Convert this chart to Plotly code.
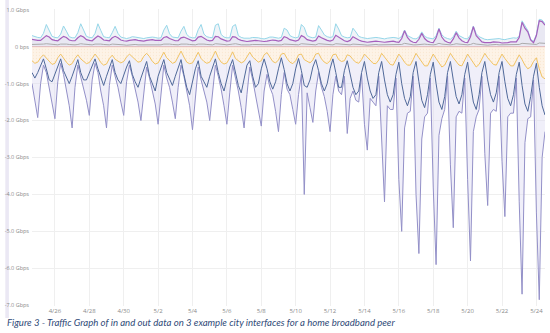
import plotly.graph_objects as go
import pandas as pd

# time axis: 4-hour samples, 30 days starting 2020-04-24 16:00
start_time = "2020-04-24 16:00"
step_hours = 4

# ---- outbound (positive) series, one row per day, 6 samples per day ----
cyan_out = [
    [0.30, 0.27, 0.25, 0.24, 0.36, 0.60],
    [0.45, 0.28, 0.25, 0.24, 0.34, 0.56],
    [0.42, 0.27, 0.24, 0.24, 0.38, 0.62],
    [0.45, 0.28, 0.25, 0.24, 0.36, 0.62],
    [0.44, 0.27, 0.25, 0.24, 0.38, 0.55],
    [0.36, 0.26, 0.24, 0.22, 0.24, 0.27],
    [0.26, 0.25, 0.23, 0.22, 0.24, 0.26],
    [0.26, 0.25, 0.23, 0.24, 0.45, 0.58],
    [0.35, 0.26, 0.24, 0.24, 0.42, 0.55],
    [0.33, 0.26, 0.24, 0.24, 0.46, 0.60],
    [0.34, 0.27, 0.25, 0.24, 0.58, 0.62],
    [0.33, 0.26, 0.24, 0.24, 0.55, 0.60],
    [0.30, 0.25, 0.23, 0.22, 0.23, 0.25],
    [0.25, 0.24, 0.22, 0.21, 0.23, 0.26],
    [0.26, 0.25, 0.23, 0.25, 0.50, 0.45],
    [0.30, 0.26, 0.24, 0.26, 0.60, 0.52],
    [0.30, 0.26, 0.24, 0.26, 0.57, 0.45],
    [0.32, 0.27, 0.25, 0.27, 0.62, 0.48],
    [0.30, 0.26, 0.24, 0.25, 0.50, 0.40],
    [0.28, 0.25, 0.23, 0.22, 0.23, 0.25],
    [0.25, 0.24, 0.22, 0.21, 0.23, 0.25],
    [0.25, 0.24, 0.22, 0.28, 0.45, 0.30],
    [0.25, 0.22, 0.21, 0.26, 0.40, 0.28],
    [0.24, 0.22, 0.21, 0.30, 0.50, 0.32],
    [0.25, 0.22, 0.20, 0.27, 0.42, 0.30],
    [0.25, 0.22, 0.21, 0.32, 0.56, 0.35],
    [0.27, 0.23, 0.20, 0.19, 0.20, 0.22],
    [0.23, 0.22, 0.20, 0.19, 0.21, 0.23],
    [0.24, 0.23, 0.28, 0.70, 0.56, 0.44],
    [0.20, 0.14, 0.33, 0.74, 0.72, 0.62],
]
purple_out = [
    [0.20, 0.18, 0.17, 0.17, 0.24, 0.30],
    [0.26, 0.19, 0.17, 0.16, 0.22, 0.28],
    [0.25, 0.18, 0.16, 0.16, 0.24, 0.30],
    [0.26, 0.19, 0.17, 0.16, 0.23, 0.29],
    [0.25, 0.18, 0.17, 0.16, 0.24, 0.28],
    [0.24, 0.18, 0.16, 0.15, 0.17, 0.19],
    [0.19, 0.17, 0.15, 0.15, 0.17, 0.19],
    [0.19, 0.17, 0.16, 0.17, 0.25, 0.27],
    [0.22, 0.18, 0.16, 0.16, 0.24, 0.26],
    [0.22, 0.18, 0.16, 0.17, 0.26, 0.28],
    [0.22, 0.18, 0.16, 0.17, 0.28, 0.27],
    [0.21, 0.17, 0.15, 0.16, 0.27, 0.26],
    [0.20, 0.17, 0.15, 0.14, 0.15, 0.17],
    [0.17, 0.16, 0.14, 0.14, 0.15, 0.17],
    [0.18, 0.17, 0.15, 0.17, 0.27, 0.24],
    [0.19, 0.17, 0.15, 0.18, 0.30, 0.26],
    [0.19, 0.17, 0.15, 0.17, 0.29, 0.24],
    [0.20, 0.17, 0.15, 0.18, 0.31, 0.26],
    [0.19, 0.16, 0.14, 0.17, 0.27, 0.22],
    [0.18, 0.15, 0.13, 0.12, 0.13, 0.15],
    [0.15, 0.14, 0.12, 0.12, 0.13, 0.15],
    [0.15, 0.13, 0.12, 0.22, 0.43, 0.25],
    [0.16, 0.12, 0.11, 0.20, 0.36, 0.22],
    [0.15, 0.12, 0.11, 0.24, 0.48, 0.26],
    [0.16, 0.12, 0.10, 0.21, 0.38, 0.24],
    [0.16, 0.12, 0.11, 0.27, 0.54, 0.30],
    [0.20, 0.13, 0.11, 0.10, 0.11, 0.13],
    [0.13, 0.12, 0.10, 0.10, 0.11, 0.13],
    [0.14, 0.13, 0.25, 0.66, 0.50, 0.40],
    [0.18, 0.11, 0.30, 0.70, 0.68, 0.58],
]
gray_out = [
    [0.06, 0.06, 0.05, 0.05, 0.07, 0.08],
    [0.07, 0.06, 0.05, 0.05, 0.07, 0.08],
    [0.07, 0.06, 0.05, 0.05, 0.06, 0.08],
    [0.07, 0.06, 0.05, 0.05, 0.07, 0.08],
    [0.07, 0.06, 0.05, 0.05, 0.07, 0.07],
    [0.06, 0.05, 0.05, 0.04, 0.05, 0.06],
    [0.06, 0.05, 0.05, 0.04, 0.05, 0.06],
    [0.06, 0.05, 0.05, 0.05, 0.07, 0.08],
    [0.07, 0.06, 0.05, 0.05, 0.07, 0.08],
    [0.07, 0.06, 0.05, 0.05, 0.07, 0.08],
    [0.07, 0.06, 0.05, 0.05, 0.08, 0.08],
    [0.07, 0.06, 0.05, 0.05, 0.07, 0.08],
    [0.06, 0.05, 0.05, 0.04, 0.05, 0.06],
    [0.06, 0.05, 0.05, 0.04, 0.05, 0.06],
    [0.06, 0.05, 0.05, 0.05, 0.07, 0.07],
    [0.07, 0.06, 0.05, 0.05, 0.08, 0.07],
    [0.07, 0.06, 0.05, 0.05, 0.08, 0.07],
    [0.07, 0.06, 0.05, 0.05, 0.08, 0.07],
    [0.07, 0.06, 0.05, 0.05, 0.07, 0.07],
    [0.06, 0.05, 0.05, 0.04, 0.05, 0.06],
    [0.06, 0.05, 0.05, 0.04, 0.05, 0.06],
    [0.06, 0.05, 0.05, 0.06, 0.09, 0.07],
    [0.06, 0.05, 0.05, 0.06, 0.08, 0.07],
    [0.06, 0.05, 0.05, 0.06, 0.09, 0.07],
    [0.06, 0.05, 0.05, 0.06, 0.08, 0.07],
    [0.06, 0.05, 0.05, 0.06, 0.09, 0.07],
    [0.06, 0.05, 0.05, 0.04, 0.05, 0.06],
    [0.06, 0.05, 0.05, 0.04, 0.05, 0.06],
    [0.06, 0.05, 0.06, 0.09, 0.08, 0.07],
    [0.06, 0.05, 0.06, 0.10, 0.10, 0.09],
]

# ---- inbound (negative) series ----
orange_in = [
    [-0.38, -0.45, -0.42, -0.30, -0.22, -0.30],
    [-0.40, -0.48, -0.45, -0.30, -0.20, -0.32],
    [-0.42, -0.50, -0.46, -0.32, -0.22, -0.33],
    [-0.40, -0.46, -0.43, -0.30, -0.20, -0.30],
    [-0.43, -0.50, -0.47, -0.32, -0.23, -0.34],
    [-0.38, -0.44, -0.40, -0.28, -0.20, -0.28],
    [-0.36, -0.42, -0.40, -0.26, -0.18, -0.27],
    [-0.40, -0.47, -0.44, -0.30, -0.15, -0.30],
    [-0.38, -0.45, -0.42, -0.28, -0.12, -0.28],
    [-0.42, -0.46, -0.44, -0.30, -0.15, -0.32],
    [-0.40, -0.45, -0.42, -0.28, -0.12, -0.30],
    [-0.42, -0.47, -0.44, -0.30, -0.14, -0.32],
    [-0.38, -0.44, -0.40, -0.27, -0.15, -0.28],
    [-0.36, -0.42, -0.38, -0.22, -0.16, -0.30],
    [-0.40, -0.44, -0.36, -0.20, -0.18, -0.32],
    [-0.42, -0.46, -0.38, -0.22, -0.20, -0.35],
    [-0.40, -0.44, -0.36, -0.20, -0.18, -0.33],
    [-0.42, -0.46, -0.38, -0.22, -0.20, -0.35],
    [-0.40, -0.38, -0.22, -0.25, -0.35, -0.42],
    [-0.45, -0.35, -0.20, -0.28, -0.38, -0.45],
    [-0.46, -0.36, -0.18, -0.28, -0.40, -0.48],
    [-0.50, -0.36, -0.20, -0.30, -0.42, -0.50],
    [-0.50, -0.35, -0.18, -0.30, -0.42, -0.52],
    [-0.52, -0.36, -0.20, -0.32, -0.45, -0.55],
    [-0.50, -0.34, -0.18, -0.30, -0.40, -0.50],
    [-0.52, -0.36, -0.20, -0.32, -0.45, -0.55],
    [-0.48, -0.34, -0.18, -0.30, -0.40, -0.48],
    [-0.50, -0.35, -0.20, -0.32, -0.42, -0.52],
    [-0.52, -0.36, -0.22, -0.35, -0.50, -0.60],
    [-0.55, -0.40, -0.30, -0.60, -0.82, -0.87],
]
blue_in = [
    [-0.70, -0.85, -0.70, -0.50, -0.33, -0.60],
    [-0.90, -0.95, -0.75, -0.50, -0.33, -0.65],
    [-0.85, -1.00, -0.80, -0.55, -0.35, -0.70],
    [-0.90, -0.90, -0.70, -0.50, -0.33, -0.60],
    [-0.85, -1.05, -0.80, -0.55, -0.35, -0.70],
    [-0.90, -1.00, -0.75, -0.55, -0.38, -0.75],
    [-0.95, -1.10, -0.85, -0.60, -0.40, -0.80],
    [-1.00, -1.20, -0.80, -0.55, -0.35, -0.70],
    [-0.90, -1.05, -0.80, -0.55, -0.35, -0.75],
    [-1.10, -1.30, -0.90, -0.60, -0.38, -0.80],
    [-0.95, -1.10, -0.80, -0.55, -0.33, -0.70],
    [-1.00, -1.20, -0.85, -0.55, -0.35, -0.75],
    [-1.05, -1.25, -0.85, -0.50, -0.38, -0.80],
    [-1.10, -1.00, -0.60, -0.33, -0.60, -0.95],
    [-1.15, -0.95, -0.60, -0.30, -0.62, -1.00],
    [-1.20, -1.00, -0.60, -0.32, -0.65, -1.05],
    [-1.10, -0.90, -0.55, -0.35, -0.65, -1.00],
    [-1.20, -1.00, -0.60, -0.33, -0.70, -1.10],
    [-1.10, -0.65, -0.38, -0.75, -1.10, -1.30],
    [-1.20, -0.70, -0.40, -0.85, -1.20, -1.40],
    [-1.30, -0.70, -0.40, -0.90, -1.30, -1.50],
    [-1.30, -0.75, -0.42, -1.00, -1.40, -1.60],
    [-1.35, -0.70, -0.40, -0.95, -1.45, -1.65],
    [-1.30, -0.75, -0.42, -1.00, -1.50, -1.70],
    [-1.35, -0.70, -0.40, -0.90, -1.35, -1.55],
    [-1.30, -0.75, -0.42, -1.00, -1.50, -1.70],
    [-1.30, -0.70, -0.40, -0.90, -1.30, -1.50],
    [-1.25, -0.70, -0.40, -0.95, -1.40, -1.60],
    [-1.30, -0.75, -0.42, -1.05, -1.55, -1.75],
    [-1.35, -0.80, -0.45, -1.10, -1.60, -1.85],
]
lavender_in = [
    [-1.00, -1.50, -1.92, -1.00, -0.50, -0.70],
    [-1.10, -1.50, -1.95, -0.95, -0.45, -0.75],
    [-1.20, -1.60, -2.20, -1.10, -0.50, -0.80],
    [-1.10, -1.45, -1.86, -0.90, -0.45, -0.70],
    [-1.20, -1.60, -2.20, -1.05, -0.50, -0.80],
    [-1.10, -1.50, -1.86, -0.95, -0.50, -0.80],
    [-1.15, -1.50, -2.00, -1.20, -0.55, -0.85],
    [-1.20, -1.55, -2.10, -1.20, -0.50, -0.85],
    [-1.10, -1.50, -1.95, -1.10, -0.50, -0.80],
    [-1.25, -1.60, -2.25, -1.30, -0.55, -0.90],
    [-1.20, -1.50, -2.00, -1.20, -0.50, -0.80],
    [-1.15, -1.60, -2.10, -1.25, -0.50, -0.85],
    [-1.20, -1.65, -2.20, -1.30, -0.55, -0.90],
    [-1.30, -1.70, -2.15, -1.20, -0.75, -1.10],
    [-1.30, -1.75, -2.30, -1.30, -0.70, -1.15],
    [-1.30, -1.70, -2.10, -1.30, -0.75, -4.00],
    [-1.25, -1.65, -2.05, -1.20, -0.70, -1.10],
    [-1.35, -1.75, -2.30, -1.30, -0.80, -1.20],
    [-1.30, -0.80, -2.35, -1.40, -1.20, -1.45],
    [-1.50, -0.75, -2.10, -2.80, -1.40, -1.50],
    [-1.60, -0.80, -2.60, -4.20, -1.60, -1.70],
    [-1.70, -0.85, -3.60, -5.00, -2.20, -1.80],
    [-1.75, -0.80, -4.00, -5.60, -2.50, -1.90],
    [-1.80, -0.85, -3.80, -5.90, -2.40, -1.95],
    [-1.70, -0.80, -3.20, -4.90, -1.90, -1.75],
    [-1.80, -0.85, -3.60, -5.80, -2.30, -1.90],
    [-1.70, -0.80, -2.90, -4.30, -1.80, -1.70],
    [-1.75, -0.80, -3.10, -4.60, -1.90, -1.80],
    [-1.80, -0.85, -4.20, -6.70, -2.60, -1.95],
    [-1.90, -0.90, -4.50, -6.85, -3.00, -2.30],
]

y_tick_values = [1, 0, -1, -2, -3, -4, -5, -6, -7]
y_tick_labels = ["1.0 Gbps", "0 bps", "-1.0 Gbps", "-2.0 Gbps", "-3.0 Gbps",
                 "-4.0 Gbps", "-5.0 Gbps", "-6.0 Gbps", "-7.0 Gbps"]
caption = "Figure 3 - Traffic Graph of in and out data on 3 example city interfaces for a home broadband peer"


def flat(rows):
    return [v for r in rows for v in r]


n = len(flat(lavender_in))
times = pd.date_range(start=start_time, periods=n, freq=f"{step_hours}h")

fig = go.Figure()

# inbound: big lavender area first
fig.add_trace(go.Scatter(x=times, y=flat(lavender_in), mode="lines", fill="tozeroy",
                         fillcolor="rgba(222,219,242,0.45)",
                         line=dict(color="#9390c8", width=1)))
fig.add_trace(go.Scatter(x=times, y=flat(orange_in), mode="lines", fill="tozeroy",
                         fillcolor="rgba(253,238,218,0.85)",
                         fillpattern=dict(shape=".", fgcolor="rgba(240,205,160,0.55)",
                                          bgcolor="rgba(254,244,230,0.9)", size=3, solidity=0.15),
                         line=dict(color="#f2c362", width=1)))
fig.add_trace(go.Scatter(x=times, y=flat(blue_in), mode="lines",
                         line=dict(color="#50699a", width=1)))

# outbound
fig.add_trace(go.Scatter(x=times, y=flat(cyan_out), mode="lines", fill="tozeroy",
                         fillcolor="rgba(222,230,240,0.45)",
                         line=dict(color="#96d7e9", width=1)))
fig.add_trace(go.Scatter(x=times, y=flat(purple_out), mode="lines", fill="tozeroy",
                         fillcolor="rgba(228,224,240,0.6)",
                         line=dict(color="#a660bd", width=1.2)))
fig.add_trace(go.Scatter(x=times, y=flat(gray_out), mode="lines",
                         line=dict(color="#ababab", width=1)))

# decorative left bar of the page
fig.add_shape(type="rect", xref="paper", yref="paper",
              x0=-0.052, x1=-0.045, y0=-0.04, y1=1.04,
              fillcolor="#ebe8f4", line=dict(width=0), layer="below")

fig.add_annotation(text=caption, xref="paper", yref="paper",
                   x=-0.052, y=-0.057, xanchor="left", yanchor="middle",
                   showarrow=False,
                   font=dict(family="Lato", size=9.6, color="#2f4a78", style="italic"))

fig.update_layout(
    width=550, height=333,
    margin=dict(l=30, r=5, t=9, b=27),
    paper_bgcolor="white", plot_bgcolor="white",
    showlegend=False,
)
fig.update_xaxes(
    type="date",
    range=["2020-04-24 16:00", "2020-05-24 12:00"],
    tick0="2020-04-26", dtick=2 * 86400000, tickformat="%-m/%-d",
    showgrid=True, gridcolor="#efefef", gridwidth=1,
    showline=False, zeroline=False, ticks="",
    tickfont=dict(family="Open Sans", size=6, color="#8a8a8a"),
)
fig.update_yaxes(
    range=[-7.02, 1.02],
    tickvals=y_tick_values, ticktext=y_tick_labels,
    showgrid=True, gridcolor="#efefef", gridwidth=1,
    zeroline=True, zerolinecolor="#dc5642", zerolinewidth=2,
    showline=False, ticks="", ticklabelstandoff=2,
    tickfont=dict(family="Open Sans", size=5.5, color="#8a8a8a"),
)

fig.write_html("out.html")
